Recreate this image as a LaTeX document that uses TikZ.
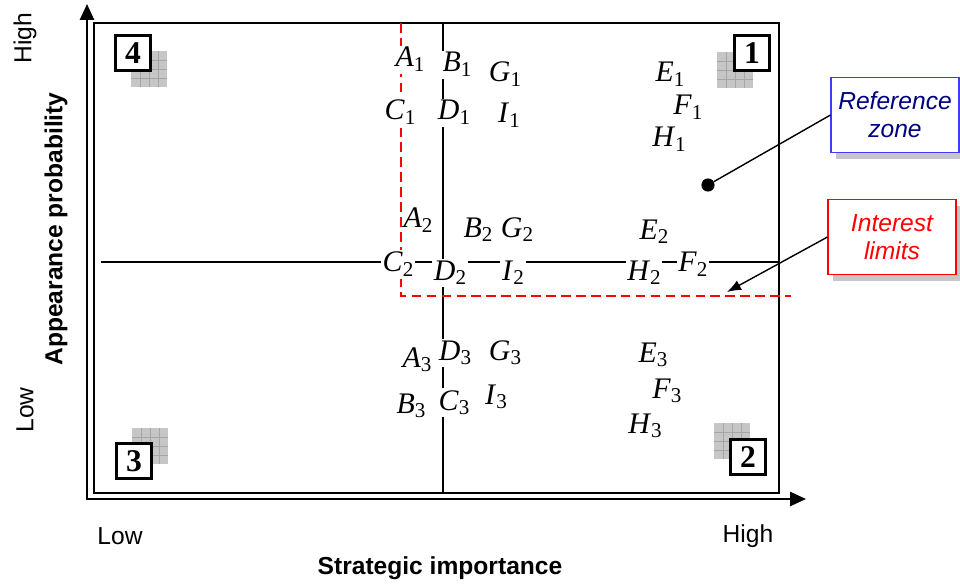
\documentclass[tikz,border=0pt]{standalone}
\usepackage{fontspec}
\setmainfont{Liberation Sans}
\newfontfamily\timesfont{Liberation Serif}
\usepackage{xcolor}
\usetikzlibrary{arrows.meta,shadows}

\definecolor{refblue}{RGB}{60,60,255}
\definecolor{refnavy}{RGB}{0,0,128}

\newcommand\plab[2]{\textit{#1}\raisebox{-0.35ex}{\fontsize{12}{12}\selectfont #2}}

\begin{document}
\begin{tikzpicture}[
    x=0.02cm,
    y=-0.02cm,
    frame/.style={
        line width=1.1pt
    },
    midline/.style={
        line width=0.8pt
    },
    axis/.style={
        line width=1.1pt,
        -{Triangle[length=9pt,width=8pt]}
    },
    limit/.style={
        red,
        line width=1.3pt,
        dash pattern=on 5.5pt off 3pt
    },
    ptlab/.style={
        fill=white,
        inner sep=1pt,
        anchor=base,
        font=\timesfont\fontsize{17}{17}\selectfont
    },
    numbox/.style={
        draw,
        line width=1.2pt,
        fill=white,
        minimum size=0.7cm,
        inner sep=0pt,
        font=\timesfont\fontsize{18}{18}\selectfont\bfseries
    },
    callout/.style={
        fill=white,
        line width=0.6pt,
        minimum width=2.56cm,
        minimum height=1.5cm,
        align=center,
        font=\fontsize{14}{16}\selectfont\itshape,
        drop shadow={shadow xshift=3pt, shadow yshift=-3.5pt, fill=gray!45, opacity=1}
    }
]

\useasboundingbox (0,0) rectangle (960,584);


\foreach \sx/\sy in {131/51, 717/52, 132/428, 714/423} {
    \fill[gray!45] (\sx,\sy) rectangle ++(36,36);
    \foreach \k in {9,18,27} {
        \draw[gray!70, line width=0.3pt] (\sx+\k,\sy) -- ++(0,36);
        \draw[gray!70, line width=0.3pt] (\sx,\sy+\k) -- ++(36,0);
    }
}


\draw[frame] (94,23) rectangle (779,493);
\draw[axis] (87,500) -- (87,4);
\draw[axis] (86,499) -- (806,499);


\draw[midline] (443,23) -- (443,493);
\draw[midline] (101,262) -- (779,262);


\draw[limit] (401,23) -- (401,296) -- (791,296);


\node[numbox] (q1) at (752,53) {1};
\node[numbox] (q2) at (748,457) {2};
\node[numbox] (q3) at (134,461) {3};
\node[numbox] (q4) at (133,53) {4};


\node[ptlab] (A1) at (410,67) {\plab{A}{1}};
\node[ptlab] (B1) at (457,72) {\plab{B}{1}};
\node[ptlab] (G1) at (505,82) {\plab{G}{1}};
\node[ptlab] (E1) at (670,82) {\plab{E}{1}};
\node[ptlab] (F1) at (688,115) {\plab{F}{1}};
\node[ptlab] (H1) at (669,147) {\plab{H}{1}};
\node[ptlab] (C1) at (400,120) {\plab{C}{1}};
\node[ptlab] (D1) at (454,120) {\plab{D}{1}};
\node[ptlab] (I1) at (509,123) {\plab{I}{1}};


\node[ptlab] (A2) at (418,228) {\plab{A}{2}};
\node[ptlab] (B2) at (478,237) {\plab{B}{2}};
\node[ptlab] (G2) at (517,237) {\plab{G}{2}};
\node[ptlab] (E2) at (654,239) {\plab{E}{2}};
\node[ptlab] (C2) at (398,272) {\plab{C}{2}};
\node[ptlab] (D2) at (450,280) {\plab{D}{2}};
\node[ptlab] (I2) at (513,280) {\plab{I}{2}};
\node[ptlab] (H2) at (644,280) {\plab{H}{2}};
\node[ptlab] (F2) at (693,272) {\plab{F}{2}};


\node[ptlab] (A3) at (417,367) {\plab{A}{3}};
\node[ptlab] (D3) at (455,360) {\plab{D}{3}};
\node[ptlab] (G3) at (505,360) {\plab{G}{3}};
\node[ptlab] (E3) at (653,362) {\plab{E}{3}};
\node[ptlab] (F3) at (667,398) {\plab{F}{3}};
\node[ptlab] (B3) at (411,413) {\plab{B}{3}};
\node[ptlab] (C3) at (454,410) {\plab{C}{3}};
\node[ptlab] (I3) at (496,404) {\plab{I}{3}};
\node[ptlab] (H3) at (645,433) {\plab{H}{3}};


\node[callout, draw=refblue, text=refnavy] (refzone) at (895,115) {Reference\\zone};
\node[callout, draw=red, text=red] (intlim) at (892,237) {Interest\\limits};

\node[circle, fill, inner sep=0pt, minimum size=7.5pt] (refdot) at (708,185) {};
\coordinate (limtip) at (727,292);

\draw[line width=0.8pt] (refdot) -- (refzone.west);
\draw[line width=0.8pt, -{Latex[length=8pt,width=6pt]}] (intlim.west) -- (limtip);


\node[rotate=90, font=\fontsize{14}{14}\selectfont\bfseries] (yname) at (56,229) {Appearance probability};
\node[rotate=90, font=\fontsize{14}{14}\selectfont] (yhigh) at (25,38) {High};
\node[rotate=90, font=\fontsize{14}{14}\selectfont] (ylow) at (25,410) {Low};

\node[font=\fontsize{14}{14}\selectfont] (xlow) at (120,536) {Low};
\node[font=\fontsize{14}{14}\selectfont] (xhigh) at (748,536) {High};
\node[font=\fontsize{14}{14}\selectfont\bfseries] (xname) at (440,568) {Strategic importance};

\end{tikzpicture}
\end{document}
